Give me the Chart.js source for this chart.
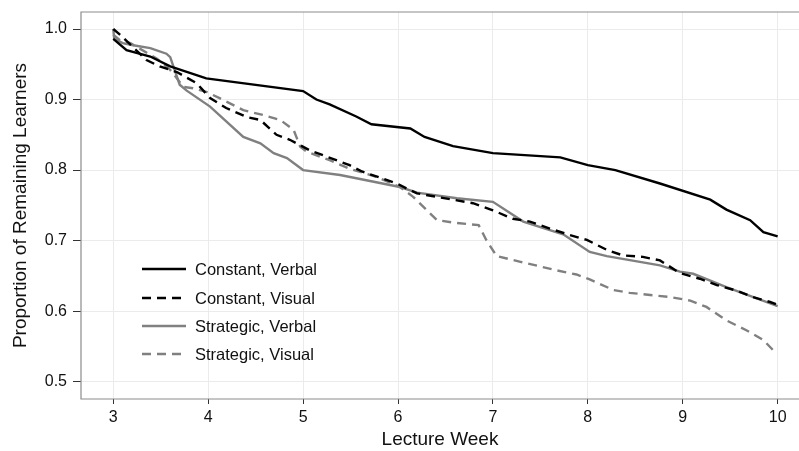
<!DOCTYPE html>
<html>
<head>
<meta charset="utf-8">
<script src="https://cdn.jsdelivr.net/npm/chart.js@4.4.1/dist/chart.umd.min.js"></script>
<style>
  html, body { margin: 0; padding: 0; background: #fff; }
  #wrap { width: 799px; height: 451px; position: relative; }
</style>
</head>
<body>
<div id="wrap"><canvas id="retention" width="799" height="451"></canvas></div>
<script>
// Values (lecture week vs. proportion still enrolled)
var weekTicks = [3, 4, 5, 6, 7, 8, 9, 10];
var propTicks = [0.5, 0.6, 0.7, 0.8, 0.9, 1.0];

var seriesNames = ['Constant, Verbal', 'Constant, Visual', 'Strategic, Verbal', 'Strategic, Visual'];

var cVerbalWeeks = [3.0, 3.14, 3.39, 3.6, 3.98, 5.0, 5.14, 5.28, 5.56, 5.72, 6.13, 6.28, 6.58, 7.0, 7.71, 8.0, 8.29, 8.76, 9.29, 9.46, 9.71, 9.85, 10.0];
var cVerbalProp  = [0.986, 0.970, 0.961, 0.947, 0.930, 0.912, 0.900, 0.893, 0.876, 0.865, 0.859, 0.847, 0.834, 0.824, 0.818, 0.807, 0.800, 0.781, 0.758, 0.744, 0.729, 0.712, 0.706];

var cVisualWeeks = [3.0, 3.07, 3.35, 3.49, 3.67, 3.88, 4.02, 4.19, 4.41, 4.55, 4.72, 4.86, 5.07, 5.49, 5.62, 5.99, 6.09, 6.2, 6.79, 7.0, 7.21, 7.39, 7.6, 7.81, 7.99, 8.2, 8.37, 8.58, 8.76, 8.97, 9.18, 9.36, 9.57, 9.74, 9.92, 10.0];
var cVisualProp  = [1.0, 0.992, 0.956, 0.947, 0.939, 0.923, 0.902, 0.888, 0.875, 0.871, 0.850, 0.843, 0.828, 0.807, 0.798, 0.781, 0.774, 0.767, 0.753, 0.743, 0.731, 0.727, 0.717, 0.708, 0.701, 0.687, 0.679, 0.677, 0.672, 0.654, 0.646, 0.637, 0.629, 0.620, 0.613, 0.609];

var sVerbalWeeks = [3.0, 3.01, 3.1, 3.21, 3.39, 3.56, 3.6, 3.7, 3.77, 4.02, 4.37, 4.55, 4.69, 4.83, 5.0, 5.39, 6.02, 6.2, 6.62, 7.0, 7.32, 7.5, 7.74, 8.02, 8.2, 8.76, 8.97, 9.11, 9.46, 10.0];
var sVerbalProp  = [1.0, 0.986, 0.980, 0.977, 0.973, 0.965, 0.960, 0.921, 0.913, 0.890, 0.847, 0.838, 0.824, 0.817, 0.800, 0.793, 0.776, 0.768, 0.760, 0.755, 0.727, 0.719, 0.709, 0.684, 0.678, 0.665, 0.656, 0.653, 0.634, 0.607];

var sVisualWeeks = [3.0, 3.07, 3.18, 3.46, 3.6, 3.74, 3.84, 3.98, 4.12, 4.37, 4.58, 4.76, 4.9, 4.97, 5.04, 5.28, 5.49, 5.78, 6.02, 6.16, 6.41, 6.62, 6.85, 6.93, 7.04, 7.29, 7.67, 7.88, 8.02, 8.27, 8.44, 8.87, 9.08, 9.25, 9.46, 9.67, 9.85, 9.95, 10.0];
var sVisualProp  = [0.992, 0.984, 0.980, 0.958, 0.942, 0.918, 0.916, 0.911, 0.902, 0.885, 0.878, 0.871, 0.857, 0.833, 0.826, 0.814, 0.802, 0.790, 0.776, 0.762, 0.729, 0.725, 0.722, 0.701, 0.678, 0.670, 0.658, 0.652, 0.645, 0.630, 0.626, 0.620, 0.615, 0.606, 0.587, 0.573, 0.559, 0.545, 0.542];

function pairUp(xs, ys) {
    return xs.map(function (x, i) { return { x: x, y: ys[i] }; });
}

var GREY = '#808080';
var DASH = [9, 6];
var FONT = "'Liberation Sans', Arial, Helvetica, sans-serif";

// frame around the panel (right edge is cropped off) plus the in-panel legend
var panelExtras = {
    id: 'panelExtras',
    afterDatasetsDraw: function (chart) {
        var ctx = chart.ctx;
        var a = chart.chartArea;
        ctx.save();
        ctx.strokeStyle = '#8c8c8c';
        ctx.lineWidth = 1.2;
        ctx.beginPath();
        ctx.moveTo(a.right + 2, a.top);
        ctx.lineTo(a.left, a.top);
        ctx.lineTo(a.left, a.bottom);
        ctx.lineTo(a.right + 2, a.bottom);
        ctx.stroke();

        var rowY = [269, 298, 326, 354];
        chart.data.datasets.forEach(function (ds, i) {
            ctx.beginPath();
            ctx.strokeStyle = ds.borderColor;
            ctx.lineWidth = ds.borderWidth;
            ctx.setLineDash(ds.borderDash || []);
            ctx.moveTo(142, rowY[i]);
            ctx.lineTo(186, rowY[i]);
            ctx.stroke();
            ctx.setLineDash([]);
            ctx.fillStyle = '#111';
            ctx.font = '16.5px ' + FONT;
            ctx.textBaseline = 'middle';
            ctx.textAlign = 'left';
            ctx.fillText(ds.label, 195, rowY[i] + 1);
        });
        ctx.restore();
    }
};

var ctx = document.getElementById('retention').getContext('2d');

var retentionChart = new Chart(ctx, {
    type: 'line',
    data: {
        datasets: [
            {
                label: seriesNames[0],
                data: pairUp(cVerbalWeeks, cVerbalProp),
                borderColor: '#000000',
                borderWidth: 2.4
            },
            {
                label: seriesNames[1],
                data: pairUp(cVisualWeeks, cVisualProp),
                borderColor: '#000000',
                borderWidth: 2.4,
                borderDash: DASH
            },
            {
                label: seriesNames[2],
                data: pairUp(sVerbalWeeks, sVerbalProp),
                borderColor: GREY,
                borderWidth: 2.4
            },
            {
                label: seriesNames[3],
                data: pairUp(sVisualWeeks, sVisualProp),
                borderColor: GREY,
                borderWidth: 2.4,
                borderDash: DASH
            }
        ]
    },
    options: {
        responsive: false,
        animation: false,
        maintainAspectRatio: false,
        devicePixelRatio: 1,
        layout: { padding: { top: 12, right: 0, left: 0, bottom: 0 } },
        elements: {
            point: { radius: 0 },
            line: { tension: 0, fill: false }
        },
        plugins: {
            legend: { display: false },
            tooltip: { enabled: false }
        },
        scales: {
            x: {
                type: 'linear',
                min: 2.66,
                max: 10.225,
                afterBuildTicks: function (scale) {
                    scale.ticks = weekTicks.map(function (v) { return { value: v }; });
                },
                afterFit: function (scale) {
                    scale.height = 52;
                    scale.paddingLeft = 0;
                    scale.paddingRight = 0;
                },
                grid: { color: '#ebebeb', lineWidth: 1, tickColor: '#333', tickLength: 5 },
                border: { display: false },
                ticks: {
                    color: '#111',
                    font: { family: FONT, size: 16 },
                    padding: 4,
                    maxRotation: 0,
                    callback: function (v) { return String(v); }
                },
                title: {
                    display: true,
                    text: 'Lecture Week',
                    color: '#111',
                    font: { family: FONT, size: 19 },
                    padding: { top: 0, bottom: 0 }
                }
            },
            y: {
                type: 'linear',
                min: 0.4755,
                max: 1.0241,
                afterBuildTicks: function (scale) {
                    scale.ticks = propTicks.map(function (v) { return { value: v }; });
                },
                afterFit: function (scale) {
                    scale.width = 81;
                    scale.paddingTop = 0;
                    scale.paddingBottom = 0;
                },
                grid: { color: '#ebebeb', lineWidth: 1, tickColor: '#333', tickLength: 8 },
                border: { display: false },
                ticks: {
                    color: '#111',
                    font: { family: FONT, size: 16 },
                    padding: 6,
                    callback: function (v) { return v.toFixed(1); }
                },
                title: {
                    display: true,
                    text: 'Proportion of Remaining Learners',
                    color: '#111',
                    font: { family: FONT, size: 19 },
                    padding: { top: 9, bottom: 0 }
                }
            }
        }
    },
    plugins: [panelExtras]
});
</script>
</body>
</html>
